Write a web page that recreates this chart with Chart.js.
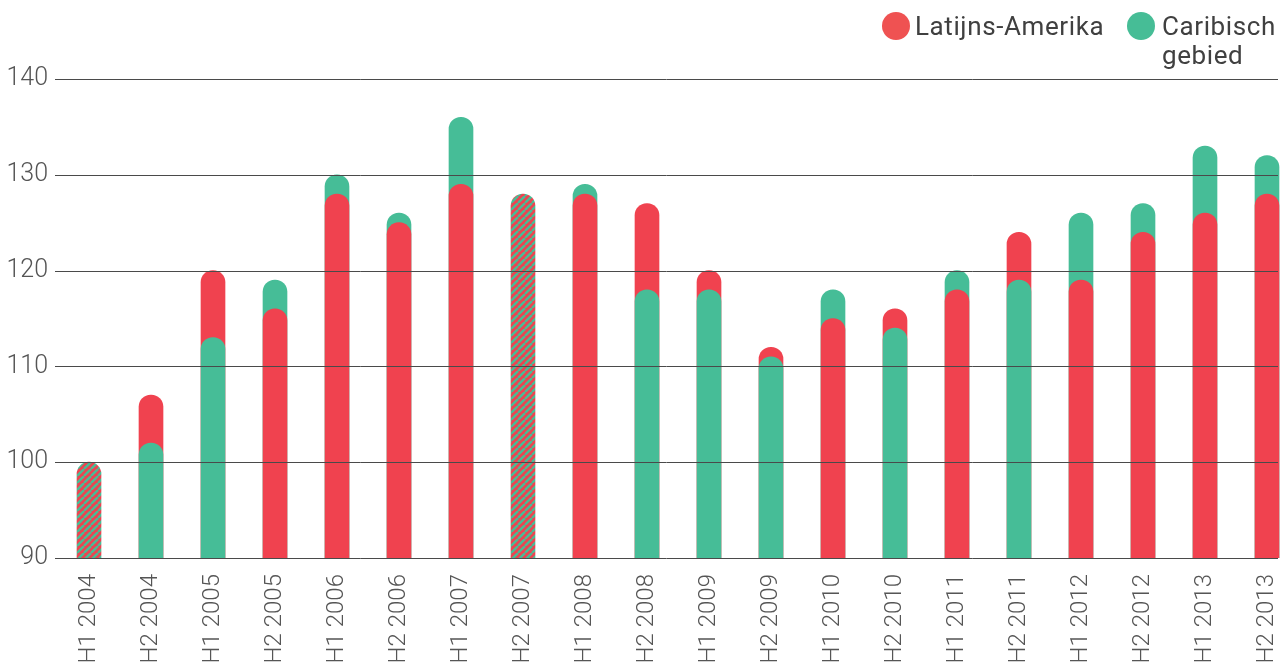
<!DOCTYPE html>
<html>
<head>
<meta charset="utf-8">
<script src="https://cdn.jsdelivr.net/npm/chart.js@4.4.1/dist/chart.umd.min.js"></script>
<style>
  html, body { margin: 0; padding: 0; background: #fff; overflow: hidden; }
  #wrap { position: relative; width: 1281px; height: 665px; }
  #legend { position: absolute; top: 0; left: 0; font-family: Roboto, sans-serif; font-size: 26px; color: #404040; letter-spacing: 0.6px; }
  .dot { position: absolute; width: 28px; height: 28px; border-radius: 50%; }
  .lbl { position: absolute; line-height: 29px; white-space: nowrap; }
</style>
</head>
<body>
<div id="wrap">
  <canvas id="c"></canvas>
  <div id="legend">
    <span class="dot" style="left:882px;top:12px;background:#EF5252"></span>
    <span class="lbl" style="left:915px;top:12px">Latijns-Amerika</span>
    <span class="dot" style="left:1127px;top:12px;background:#46BD96"></span>
    <span class="lbl" style="left:1162px;top:12px">Caribisch<br>gebied</span>
  </div>
</div>
<script>
const categories = ['H1 2004','H2 2004','H1 2005','H2 2005','H1 2006','H2 2006','H1 2007','H2 2007','H1 2008','H2 2008',
                    'H1 2009','H2 2009','H1 2010','H2 2010','H1 2011','H2 2011','H1 2012','H2 2012','H1 2013','H2 2013'];
const latijnsAmerika  = [100,107,120,116,128,125,129,128,128,127,120,112,115,116,118,124,119,124,126,128];
const caribischGebied = [100,102,113,119,130,126,136,128,129,118,118,111,118,114,120,119,126,127,133,132];
const yTickValues = [90,100,110,120,130,140];

const RED = '#F0424F';
const GREEN = '#46BD97';

function makeHatch() {
  const p = 7;
  const c = document.createElement('canvas');
  c.width = p; c.height = p;
  const g = c.getContext('2d');
  g.fillStyle = RED; g.fillRect(0, 0, p, p);
  g.strokeStyle = GREEN; g.lineWidth = 2.4;
  for (let k = -1; k <= 1; k++) {
    g.beginPath(); g.moveTo(k * p, p); g.lineTo(k * p + p, 0); g.stroke();
  }
  return document.getElementById('c').getContext('2d').createPattern(c, 'repeat');
}
const hatch = makeHatch();

// taller bar drawn behind, shorter bar in front; equal values hatched
const backValues = categories.map((_, i) => Math.max(latijnsAmerika[i], caribischGebied[i]));
const frontValues = categories.map((_, i) => latijnsAmerika[i] === caribischGebied[i] ? null : Math.min(latijnsAmerika[i], caribischGebied[i]));
const backColors = categories.map((_, i) => latijnsAmerika[i] > caribischGebied[i] ? RED : (latijnsAmerika[i] < caribischGebied[i] ? GREEN : hatch));
const frontColors = categories.map((_, i) => latijnsAmerika[i] < caribischGebied[i] ? RED : GREEN);

const gridOnTop = {
  id: 'gridOnTop',
  afterDatasetsDraw(chart) {
    const y = chart.scales.y, ctx = chart.ctx, a = chart.chartArea;
    ctx.save();
    ctx.strokeStyle = '#4a4a4a';
    ctx.lineWidth = 1;
    y.ticks.forEach(t => {
      const py = Math.round(y.getPixelForValue(t.value)) + 0.5;
      ctx.beginPath();
      ctx.moveTo(a.left - 34, py);
      ctx.lineTo(a.right + 11, py);
      ctx.stroke();
    });
    ctx.restore();
  }
};

const tickFont = "Roboto, sans-serif";

new Chart(document.getElementById('c'), {
  type: 'bar',
  data: {
    labels: categories,
    datasets: [
      { label: 'front', data: frontValues, backgroundColor: frontColors, order: 0 },
      { label: 'back', data: backValues, backgroundColor: backColors, order: 1 }
    ]
  },
  options: {
    responsive: true,
    maintainAspectRatio: false,
    animation: false,
    layout: { padding: { top: 79, left: 0, right: 0, bottom: 0 } },
    datasets: {
      bar: { grouped: false, barThickness: 24, borderRadius: 12, borderSkipped: 'bottom', base: 90,
             clip: { left: 20, right: 20, top: 20, bottom: 0 } }
    },
    plugins: { legend: { display: false }, tooltip: { enabled: false } },
    scales: {
      x: {
        type: 'category',
        offset: false,
        grid: { display: false, drawTicks: false },
        border: { display: false },
        ticks: {
          autoSkip: false, minRotation: 90, maxRotation: 90, padding: 16,
          color: '#555', font: { family: tickFont, size: 24, weight: 300 }
        },
        afterFit(s) { s.height = 107; s.paddingLeft = 0; s.paddingRight = 14; }
      },
      y: {
        min: 90, max: 140,
        grid: { display: false, drawTicks: false },
        border: { display: false },
        afterBuildTicks(s) { s.ticks = yTickValues.map(v => ({ value: v })); },
        ticks: { padding: 41, color: '#555', font: { family: tickFont, size: 25, weight: 300 } },
        afterFit(s) { s.width = 89; }
      }
    }
  },
  plugins: [gridOnTop]
});
</script>
</body>
</html>
